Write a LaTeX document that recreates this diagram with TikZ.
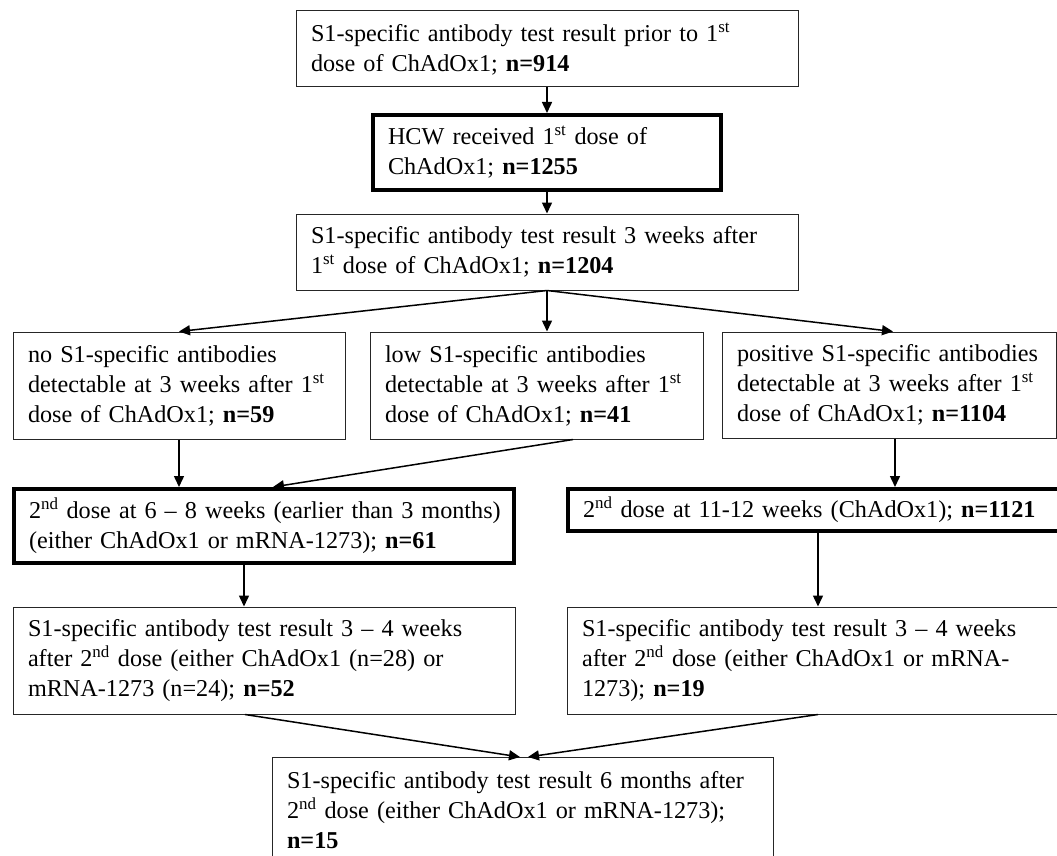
\documentclass[tikz,border=0pt]{standalone}
\usepackage{fontspec}
\setmainfont{Liberation Serif}
\usetikzlibrary{arrows.meta,calc}
\newcommand{\oneline}[1]{\mbox{#1}}
\begin{document}
\frenchspacing
\begin{tikzpicture}[x=1pt,y=-1pt,
  box/.style={draw=black!85, line width=1pt, rectangle, inner xsep=15pt, inner ysep=0pt,
    align=left, font=\fontsize{24.2}{30}\selectfont\frenchspacing},
  thickbox/.style={box, draw=black, line width=4pt},
  conn/.style={line width=1.5pt, -{Triangle[length=11pt,width=10pt]}}]
\useasboundingbox (0,0) rectangle (1057,856);
\clip (0,0) rectangle (1057,856);
\fill[white] (0,0) rectangle (1057,856);

\node[box, minimum width=502pt, minimum height=76pt, text width=472pt] (b1) at (547,49)
  {\oneline{S1-specific antibody test result prior to 1\textsuperscript{st}}\\\oneline{dose of ChAdOx1; \textbf{n=914}}};
\node[thickbox, minimum width=348pt, minimum height=75pt, text width=318pt] (b2) at (547,152.5)
  {\oneline{HCW received 1\textsuperscript{st} dose of}\\\oneline{ChAdOx1; \textbf{n=1255}}};
\node[box, minimum width=502pt, minimum height=76pt, text width=472pt] (b3) at (547,252)
  {\oneline{S1-specific antibody test result 3 weeks after}\\\oneline{1\textsuperscript{st} dose of ChAdOx1; \textbf{n=1204}}};

\node[box, minimum width=332pt, minimum height=107pt, text width=302pt] (b4) at (179,385.5)
  {\oneline{no S1-specific antibodies}\\\oneline{detectable at 3 weeks after 1\textsuperscript{st}}\\\oneline{dose of ChAdOx1; \textbf{n=59}}};
\node[box, minimum width=333pt, minimum height=107pt, text width=303pt] (b5) at (536.5,385.5)
  {\oneline{low S1-specific antibodies}\\\oneline{detectable at 3 weeks after 1\textsuperscript{st}}\\\oneline{dose of ChAdOx1; \textbf{n=41}}};
\node[box, minimum width=334pt, minimum height=106pt, text width=304pt] (b6) at (889,385)
  {\oneline{positive S1-specific antibodies}\\\oneline{detectable at 3 weeks after 1\textsuperscript{st}}\\\oneline{dose of ChAdOx1; \textbf{n=1104}}};

\node[thickbox, minimum width=500pt, minimum height=74pt, text width=470pt] (b7) at (264,526)
  {\oneline{2\textsuperscript{nd} dose at 6 – 8 weeks (earlier than 3 months)}\\\oneline{(either ChAdOx1 or mRNA-1273); \textbf{n=61}}};
\node[thickbox, minimum width=500pt, minimum height=42pt, text width=470pt] (b8) at (818,510)
  {\oneline{2\textsuperscript{nd} dose at 11-12 weeks (ChAdOx1); \textbf{n=1121}}};

\node[box, minimum width=502pt, minimum height=107pt, text width=472pt] (b9) at (264,660.5)
  {\oneline{S1-specific antibody test result 3 – 4 weeks}\\\oneline{after 2\textsuperscript{nd} dose (either ChAdOx1 (n=28) or}\\\oneline{mRNA-1273 (n=24); \textbf{n=52}}};
\node[box, minimum width=502pt, minimum height=107pt, text width=472pt] (b10) at (818,660.5)
  {\oneline{S1-specific antibody test result 3 – 4 weeks}\\\oneline{after 2\textsuperscript{nd} dose (either ChAdOx1 or mRNA-}\\\oneline{1273); \textbf{n=19}}};

\node[box, anchor=north, inner ysep=14pt, minimum width=501pt, text width=471pt] (b11) at (522.5,757)
  {\oneline{S1-specific antibody test result 6 months after}\\\oneline{2\textsuperscript{nd} dose (either ChAdOx1 or mRNA-1273);}\\\oneline{\textbf{n=15}}\rule[-40pt]{0pt}{0pt}};

\draw[conn] (b1) -- (b2);
\draw[conn] (b2) -- (b3);
\draw[conn] (b3.south) -- (b4.north);
\draw[conn] (b3.south) -- (b3.south |- b5.north);
\draw[conn] (b3.south) -- ($(b6.north)+(4,0)$);
\draw[conn] (b4.south) -- (b4.south |- b7.north);
\draw[conn] ($(b5.south)+(36.5,0)$) -- ($(b7.north)+(9,0)$);
\coordinate (b6o) at ($(b6.south)+(6,0)$);
\draw[conn] (b6o) -- (b6o |- b8.north);
\coordinate (b7o) at ($(b7.south)+(-20,0)$);
\draw[conn] (b7o) -- (b7o |- b9.north);
\draw[conn] (b8) -- (b10);
\draw[conn] ($(b9.south)+(-19,0)$) -- ($(b11.north)+(-2.5,0)$);
\draw[conn] (b10.south) -- ($(b11.north)+(5.5,0)$);
\end{tikzpicture}
\end{document}
